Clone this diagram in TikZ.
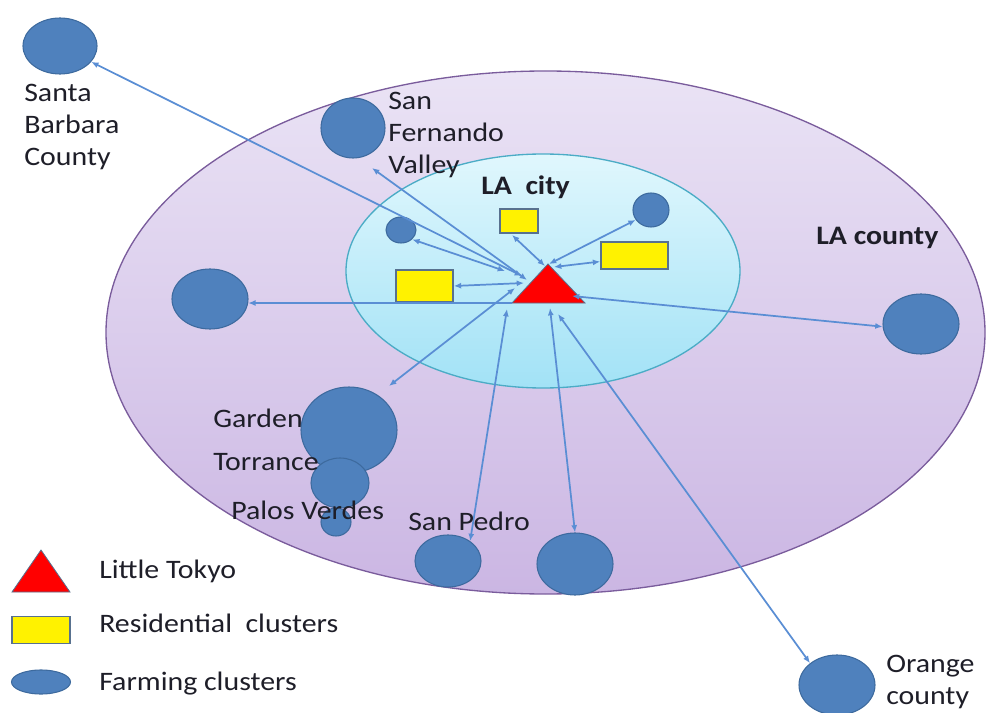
\documentclass[tikz,border=0pt]{standalone}
\usepackage{fontspec}
\setmainfont[FakeStretch=1.12]{Carlito}
\usetikzlibrary{shapes.geometric,arrows.meta,calc}

\definecolor{farmblue}{HTML}{4F81BD}
\definecolor{farmedge}{HTML}{3D6A9E}
\definecolor{linkblue}{HTML}{5A8ED4}
\definecolor{countytop}{HTML}{EAE3F5}
\definecolor{countybot}{HTML}{CBB6E3}
\definecolor{countyedge}{HTML}{7A5C9C}
\definecolor{citytop}{HTML}{E0F7FD}
\definecolor{citybot}{HTML}{A2E2F6}
\definecolor{cityedge}{HTML}{4BACC6}
\definecolor{resedge}{HTML}{58718F}
\definecolor{inkdark}{HTML}{1E1E28}

\tikzset{
  farm/.style 2 args={ellipse, draw=farmedge, fill=farmblue, line width=0.8pt,
    inner sep=0pt, minimum width=#1, minimum height=#2},
  resbox/.style 2 args={rectangle, draw=resedge, fill=yellow, line width=1.2pt,
    inner sep=0pt, minimum width=#1, minimum height=#2},
  link/.style={draw=linkblue, line width=1.3pt,
    {Latex[length=5.5pt,width=4.5pt]}-{Latex[length=5.5pt,width=4.5pt]}},
  onelink/.style={draw=linkblue, line width=1.3pt, -{Latex[length=5.5pt,width=4.5pt]}},
  lbl/.style={font=\fontsize{20}{24}\selectfont, text=inkdark, inner sep=0pt},
  hub/.style={fill=red, draw=resedge, line width=0.6pt}
}

\begin{document}
\begin{tikzpicture}[x=0.75pt,y=-0.75pt]
\useasboundingbox (0,0) rectangle (986,713);

% county and city areas
\shade[top color=countytop, bottom color=countybot, draw=countyedge, line width=1pt]
  (545.5,332.5) ellipse [x radius=439.5, y radius=261.5];
\shade[top color=citytop, bottom color=citybot, draw=cityedge, line width=1pt]
  (543,271) ellipse [x radius=197, y radius=117];

% label partly hidden behind its cluster
\node[lbl, anchor=base west] (gdl) at (213,427) {Gardena};

% farming clusters
\node[farm={55.5pt}{42pt}]   (sb) at (60,46) {};
\node[farm={48pt}{45pt}]     (sf) at (353,128) {};
\node[farm={22.5pt}{19.5pt}] (sc) at (401,230) {};
\node[farm={27pt}{25.5pt}]   (rc) at (651,210) {};
\node[farm={57pt}{45pt}]     (lc) at (210,299) {};
\node[farm={57pt}{45pt}]     (ec) at (921,324) {};
\node[farm={72pt}{64.5pt}]   (gd) at (349,430) {};
\node[farm={43.5pt}{37.5pt}] (tr) at (340,483) {};
\node[farm={22.5pt}{21pt}]   (pv) at (336,522) {};
\node[farm={49.5pt}{39pt}]   (sp) at (448,561) {};
\node[farm={57pt}{46.5pt}]   (s2) at (575,564) {};
\node[farm={57pt}{45pt}]     (oc) at (837,685) {};

% residential clusters
\node[resbox={28.5pt}{18pt}]    (rt) at (519,221) {};
\node[resbox={42.75pt}{24pt}]   (rl) at (424.5,286) {};
\node[resbox={50.25pt}{20.25pt}] (rr) at (634.5,255.5) {};

% Little Tokyo
\draw[hub] (512,303) -- (548,264) -- (585,303) -- cycle;

% link ends at Little Tokyo
\coordinate (hsb) at (522,276);
\coordinate (hsf) at (527,280);
\coordinate (hsc) at (505,271);
\coordinate (hrt) at (545,266);
\coordinate (hrc) at (549,264);
\coordinate (hrr) at (554,267);
\coordinate (hrl) at (524,283);
\coordinate (hlc) at (512,303);
\coordinate (hec) at (572,296);
\coordinate (hgd) at (515,288);
\coordinate (hsp) at (507,309);
\coordinate (hs2) at (550,308);
\coordinate (hoc) at (558,314);
% free ends short of their clusters
\coordinate (sfend) at (372,168);
\coordinate (gdend) at (389,386);
\coordinate (rtend) at (512,235);

% links
\draw[link] (sb.-27) -- (hsb);
\draw[link] (sfend) -- (hsf);
\draw[link] (sc.-40) -- (hsc);
\draw[link] (rtend) -- (hrt);
\draw[link] (hrc) -- (rc.213);
\draw[link] (hrr) -- (rr.190);
\draw[link] (rl.east) -- (hrl);
\draw[onelink] (hlc) -- (lc.-6);
\draw[link] (hec) -- (ec.184);
\draw[link] (hgd) -- (gdend);
\draw[link] (hsp) -- (sp.42);
\draw[link] (hs2) -- (s2.north);
\draw[link] (hoc) -- (oc.141);

% place names
\node[lbl, anchor=north west, align=left] (sbl) at (24,84) {Santa\\Barbara\\County};
\node[lbl, anchor=north west, align=left] (sfl) at (388,92) {San\\Fernando\\Valley};
\node[lbl, anchor=base west] (lacity) at (481,195) {\bfseries LA~~city};
\node[lbl, anchor=base west] (lacounty) at (816,245) {\bfseries LA county};
\node[lbl, anchor=base west] (trl) at (213,470) {Torrance};
\node[lbl, anchor=base west] (pvl) at (231,519) {Palos Verdes};
\node[lbl, anchor=base west] (spl) at (408,530) {San Pedro};
\node[lbl, anchor=north west, align=left] (ocl) at (886,655) {Orange\\county};

% legend
\draw[hub] (12,592) -- (41,550) -- (70,592) -- cycle;
\node[resbox={43.5pt}{20.25pt}] (lgres) at (41,630) {};
\node[farm={44.25pt}{18pt}] (lgfarm) at (41,682) {};
\node[lbl, anchor=base west] (lgt1) at (99,578) {Little Tokyo};
\node[lbl, anchor=base west] (lgt2) at (99,632) {Residential~~clusters};
\node[lbl, anchor=base west] (lgt3) at (99,690) {Farming clusters};
\end{tikzpicture}
\end{document}
